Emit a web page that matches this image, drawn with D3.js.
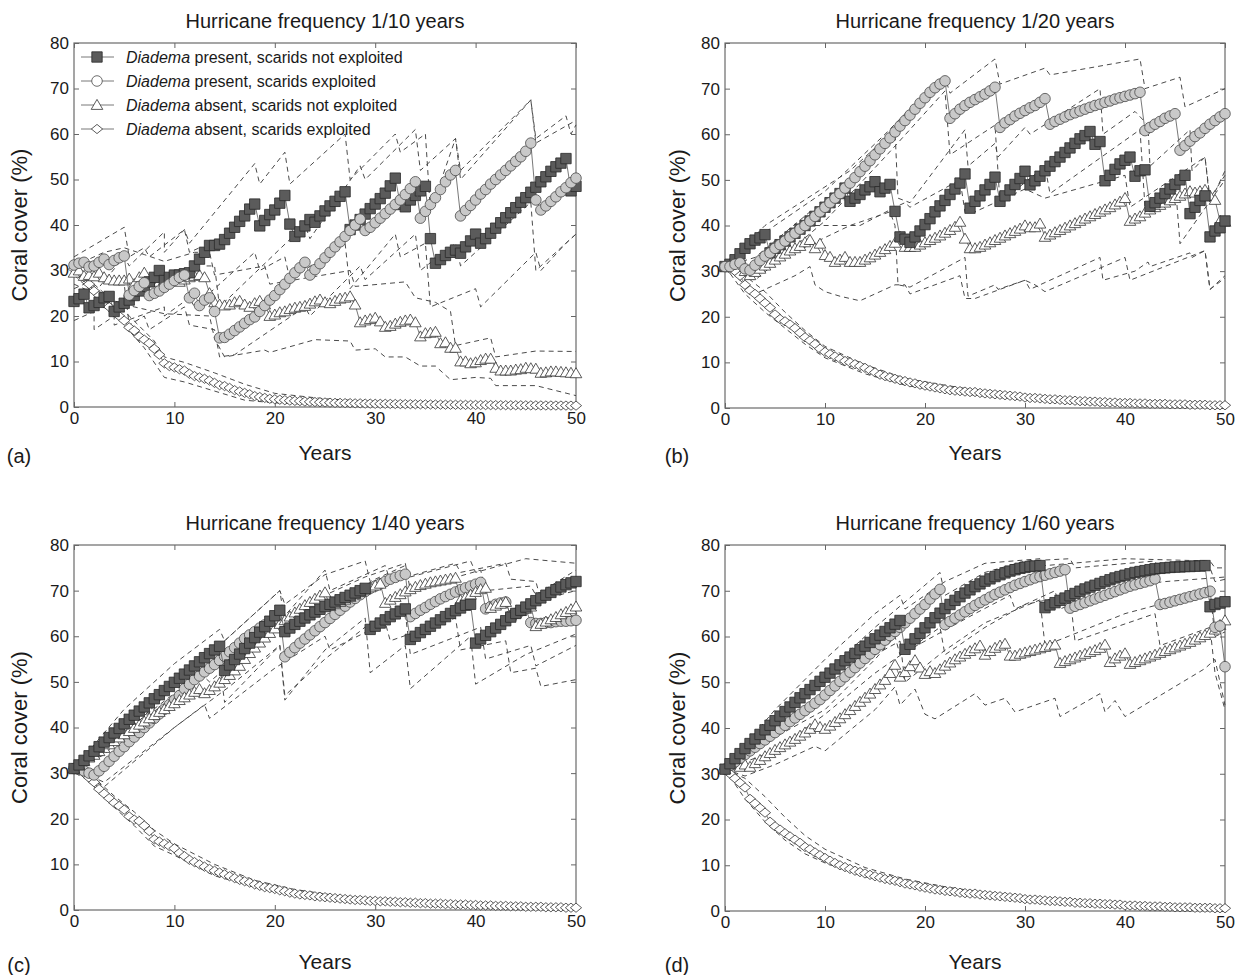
<!DOCTYPE html>
<html>
<head>
<meta charset="utf-8">
<script src="https://cdn.jsdelivr.net/npm/d3@7"></script>
<style>
  body { margin: 0; background: #fff; }
  text { font-family: "Liberation Sans", Arial, sans-serif; fill: #1a1a1a; }
</style>
</head>
<body>
<div id="chart"></div>
<script>
// half-year steps, 0..50
const YEARS = d3.range(0, 50.25, 0.5)
const X_TICKS = [0, 10, 20, 30, 40, 50]
const Y_TICKS = [0, 10, 20, 30, 40, 50, 60, 70, 80]
const TITLES = [
  'Hurricane frequency 1/10 years', 'Hurricane frequency 1/20 years',
  'Hurricane frequency 1/40 years', 'Hurricane frequency 1/60 years'
]
const TAGS = ['(a)', '(b)', '(c)', '(d)']
const LEGEND = [
  ['Diadema', ' present, scarids not exploited'],
  ['Diadema', ' present, scarids exploited'],
  ['Diadema', ' absent, scarids not exploited'],
  ['Diadema', ' absent, scarids exploited']
]

// ---- (a) 1/10 years ----
const A_SQ = [
  23.2, 23.8, 24.8, 21.8, 22.3, 23.0, 24.0, 24.3, 21.0, 22.0,
  22.8, 23.5, 24.5, 25.5, 26.5, 27.5, 28.5, 30.0, 27.8, 28.5,
  29.0, 29.0, 29.3, 29.5, 31.0, 32.5, 34.0, 35.5, 35.5, 35.8,
  36.8, 38.2, 39.5, 40.8, 42.0, 43.5, 44.6, 39.8, 41.0, 42.3,
  43.3, 44.8, 46.5, 40.2, 37.5, 38.5, 39.8, 41.2, 40.6, 42.0,
  43.1, 44.2, 45.2, 46.3, 47.3, 39.0, 40.0, 41.2, 42.4, 43.6,
  44.6, 45.8, 47.0, 48.6, 50.3, 44.5, 44.0, 45.5, 46.5, 47.5,
  48.5, 37.0, 31.6, 32.4, 33.3, 34.0, 34.5, 33.8, 35.2, 36.5,
  38.0, 36.0, 37.0, 38.2, 39.3, 40.5, 41.6, 42.7, 43.8, 45.0,
  46.0, 47.2, 48.3, 49.5, 50.6, 51.8, 52.8, 53.6, 54.6, 47.5,
  48.5
]
const A_CI = [
  31.2, 31.6, 31.8, 30.8, 31.0, 31.8, 32.5, 31.3, 32.2, 32.8,
  33.2, 24.6, 25.6, 26.5, 27.3, 24.5, 25.0, 25.5, 26.3, 27.0,
  27.8, 28.5, 29.0, 24.0, 25.0, 22.3, 23.5, 24.0, 21.0, 15.2,
  15.3, 16.0, 16.8, 17.6, 18.4, 19.2, 19.8, 21.0, 22.3, 23.5,
  24.5, 25.8, 27.0, 28.3, 29.5, 30.6, 31.8, 29.0, 30.2, 31.5,
  32.8, 34.0, 35.2, 36.3, 37.5, 38.8, 40.0, 41.3, 38.8, 39.5,
  40.5, 41.5, 42.5, 43.5, 44.5, 45.5, 46.7, 48.0, 49.5, 41.5,
  43.0, 44.5, 46.0, 47.8, 49.5, 51.0, 52.0, 42.0, 43.2, 44.3,
  45.5, 46.8, 47.8, 49.0, 50.0, 51.0, 52.0, 53.0, 54.0, 55.0,
  56.2, 58.0, 45.5, 43.3, 44.2, 45.2, 46.2, 47.3, 48.2, 49.3,
  50.3
]
const A_TR = [
  29.5, 30.0, 28.8, 29.0, 28.7, 29.5, 28.5, 28.0, 27.8, 27.8,
  27.8, 28.2, 27.0, 28.5, 29.5, 27.5, 28.0, 27.5, 27.8, 28.5,
  28.0, 27.5, 28.0, 28.5, 28.8, 29.0, 28.5, 25.0, 23.0, 22.5,
  22.3, 22.5, 23.0, 23.3, 22.5, 22.0, 22.8, 23.3, 22.5, 20.0,
  20.3, 20.8, 21.0, 21.5, 21.8, 22.0, 22.2, 22.7, 23.2, 23.6,
  23.0, 22.8, 23.3, 23.8, 24.0, 24.3, 22.5, 18.6, 19.0, 19.3,
  19.6, 18.8, 17.6, 17.8, 18.3, 18.7, 19.0, 19.2, 18.6, 15.5,
  16.2, 16.3, 16.5, 14.0, 14.2, 13.0, 13.0, 10.0, 10.0, 9.6,
  9.8, 10.3, 10.6, 10.6, 8.6, 8.0, 8.0, 8.0, 8.2, 8.3,
  8.6, 8.5, 8.4, 7.5, 7.6, 7.8, 7.8, 7.7, 7.6, 7.5,
  7.4
]
const A_DI = [
  30.3, 29.5, 28.5, 27.0, 25.5, 24.5, 22.8, 22.0, 21.0, 20.0,
  19.0, 17.5, 16.8, 15.5, 14.8, 14.0, 12.8, 11.5, 9.6, 9.0,
  8.7, 8.3, 8.0, 7.3, 6.8, 6.5, 6.2, 5.8, 5.3, 4.8,
  4.6, 4.2, 3.7, 3.4, 3.1, 2.8, 2.4, 2.2, 2.0, 1.8,
  1.7, 1.6, 1.5, 1.4, 1.35, 1.3, 1.2, 1.15, 1.1, 1.05,
  1.0, 0.95, 0.9, 0.9, 0.85, 0.85, 0.8, 0.8, 0.75, 0.75,
  0.7, 0.7, 0.7, 0.68, 0.66, 0.65, 0.63, 0.62, 0.6, 0.58,
  0.57, 0.55, 0.54, 0.52, 0.51, 0.5, 0.49, 0.48, 0.47, 0.46,
  0.45, 0.44, 0.43, 0.42, 0.41, 0.4, 0.39, 0.38, 0.38, 0.37,
  0.36, 0.35, 0.35, 0.34, 0.33, 0.33, 0.32, 0.32, 0.31, 0.3,
  0.3
]
// dashed bands: [year, cover] vertices
const A_SQ_HI = [[0,26],[2,28],[2,25],[5,33],[5.5,31],[9,38.5],[9,34],[11,39],[11.5,36],[18,53.5],[18.5,49],[21,56],[21.5,49],[27,60],[27.5,50],[32,60],[32.5,56],[35,60],[35.5,43],[38,59],[38.5,50],[45.5,67.5],[46,59],[49,64],[49.5,60],[50,62]]
const A_SQ_LO = [[0,19],[2,21],[2,17],[4,20],[4,18],[9,22],[9,20],[11.5,24],[12,22],[18,34],[18.5,30],[21,33],[21.5,28],[27,36],[27.5,26],[32,38],[32.5,33],[35,36],[35.5,22],[40,26],[40.5,22],[46,34],[46.5,30],[49,36],[50,38]]
const A_CI_HI = [[0,33],[5,39.5],[5.5,33],[7,35],[7.5,33],[11,39],[11.5,34],[12.5,35],[13,31],[14,31],[14.5,22],[23,40],[23.5,37],[28.5,53],[29,50],[34,61],[34.5,52],[38,59],[38.5,52],[45.5,67.5],[46,58],[50,63]]
const A_CI_LO = [[0,29],[5,27],[5.5,18],[7,20],[7.5,17],[11,22],[11.5,18],[14,17],[14.5,11],[16,11.5],[23,22],[23.5,20],[28.5,31],[29,28],[34,38],[34.5,30],[38,36],[38.5,31],[45.5,45],[46,30],[50,38]]
const A_TR_HI = [[0,31],[3,34],[5,35],[7,33.5],[9,32],[12,34],[13.5,34],[14,29],[19,31],[19.5,27],[27.5,30],[28,26.5],[33,27.5],[34,24],[36,23],[37.5,21],[38,13.5],[41.5,15.2],[42,11],[46,12.3],[50,12.2]]
const A_TR_LO = [[0,27],[3,24],[6,22],[9,20.5],[13.5,20],[14,15],[15,11],[19,12.5],[19.5,12],[24,14.8],[27.5,14.5],[28,12.5],[30,12.8],[31,11],[33,11],[34.5,9],[36,9],[37.5,6],[40,6.5],[41.5,6.3],[42,4.7],[46,4.7],[50,2.5]]
const A_DI_HI = [[0,31],[2,27],[4,23],[5.5,20],[8,14.5],[9,11],[11,9.8],[14,7.5],[17,5],[20,3],[25,1.8],[30,1.2],[40,0.8],[50,0.6]]
const A_DI_LO = [[0,29],[2,25],[4,21],[5,18],[7,13],[9,6.5],[11,5.5],[14,3.5],[17,1.5],[20,0.9],[25,0.5],[35,0.3],[50,0.1]]

// ---- (b) 1/20 years ----
const B_SQ = [
  31.0, 31.5, 32.5, 33.8, 35.0, 36.0, 36.8, 37.3, 38.0, 34.0,
  35.0, 35.8, 36.6, 37.5, 38.3, 39.2, 40.0, 41.0, 42.0, 43.0,
  44.0, 45.0, 46.0, 47.0, 48.2, 45.3, 46.0, 46.8, 47.8, 48.5,
  49.6, 47.4, 48.2, 49.0, 43.1, 37.5, 37.0, 36.3, 37.5, 38.8,
  40.2, 41.5, 43.0, 44.3, 45.5, 46.8, 48.0, 49.3, 51.3, 43.8,
  45.3, 46.5, 47.8, 49.0, 50.6, 45.3, 46.5, 47.8, 49.0, 50.3,
  51.9, 48.9, 49.8, 50.8, 52.0, 53.0, 54.0, 55.0, 56.0, 57.0,
  58.0, 59.0, 59.7, 60.6, 57.8, 58.4, 49.8, 51.0, 52.3, 53.5,
  54.3, 55.0, 50.8, 52.0, 52.2, 44.2, 45.0, 46.0, 47.0, 48.0,
  49.0, 50.0, 51.0, 42.6, 44.0, 45.5, 46.5, 37.5, 38.8, 39.5,
  41.0
]
const B_CI = [
  31.0, 31.0, 31.5, 31.8, 30.5, 30.2, 31.3, 32.3, 33.3, 34.0,
  35.0, 35.8, 36.6, 37.5, 38.3, 39.2, 40.0, 41.0, 42.0, 43.0,
  44.0, 45.0, 46.0, 47.0, 48.2, 49.3, 50.5, 51.8, 53.0, 54.2,
  55.5, 56.8, 58.0, 59.2, 60.5, 61.8, 63.0, 64.2, 65.5, 66.8,
  68.0, 69.2, 70.2, 71.0, 71.7, 63.5, 64.5, 65.5, 66.3, 67.0,
  67.6, 68.2, 68.8, 69.5, 70.3, 61.5, 62.5, 63.2, 64.0, 64.6,
  65.2, 65.8, 66.3, 67.0, 67.8, 62.2, 62.8, 63.3, 63.8, 64.3,
  64.7, 65.1, 65.5, 65.9, 66.3, 66.6, 67.0, 67.3, 67.7, 68.0,
  68.3, 68.6, 68.9, 69.2, 60.8, 61.5, 62.2, 62.8, 63.5, 64.0,
  64.5, 56.5, 57.5, 58.5, 59.5, 60.3, 61.3, 62.2, 63.0, 63.8,
  64.5
]
const B_TR = [
  31.0, 31.5, 32.0, 32.8, 30.0, 29.1, 29.8, 30.5, 31.2, 31.8,
  32.5, 33.2, 33.8, 34.5, 35.0, 35.5, 36.3, 36.8, 35.0, 36.0,
  33.5, 33.1, 32.0, 32.5, 33.1, 32.0, 32.0, 32.0, 32.5, 33.0,
  33.6, 34.2, 34.8, 35.5, 36.2, 37.5, 35.3, 35.3, 35.3, 35.8,
  36.3, 36.8, 37.3, 37.8, 38.4, 39.0, 39.7, 40.8, 37.1, 35.0,
  35.0, 35.3, 35.8, 36.3, 36.8, 37.3, 37.8, 38.3, 38.8, 39.3,
  40.0, 39.6, 39.6, 40.4, 37.5, 38.0, 38.5, 39.0, 39.5, 40.0,
  40.5, 41.0, 41.5, 42.0, 42.5, 43.0, 43.5, 44.0, 44.6, 45.2,
  46.0, 41.0, 41.5, 42.0, 42.8, 43.5, 44.0, 44.5, 45.0, 45.5,
  46.0, 46.5, 47.0, 47.5, 47.2, 47.5, 47.8, 46.5, 45.6, 41.0,
  40.8
]
const B_DI = [
  31.0, 30.5, 30.0, 29.0, 27.0, 25.8, 25.0, 24.0, 23.0, 22.0,
  20.5, 19.5, 19.0, 18.3, 17.5, 16.5, 15.5, 14.8, 14.0, 13.0,
  12.3, 11.8, 11.3, 10.8, 10.3, 10.0, 9.6, 9.2, 8.8, 8.3,
  7.8, 7.3, 7.0, 6.7, 6.4, 6.1, 5.9, 5.6, 5.4, 5.1,
  4.9, 4.7, 4.5, 4.3, 4.1, 3.9, 3.8, 3.7, 3.6, 3.5,
  3.5, 3.3, 3.2, 3.1, 3.0, 2.9, 2.8, 2.7, 2.6, 2.5,
  2.3, 2.2, 2.2, 2.1, 2.0, 1.9, 1.9, 1.8, 1.7, 1.7,
  1.6, 1.5, 1.5, 1.4, 1.4, 1.3, 1.3, 1.2, 1.2, 1.1,
  1.1, 1.1, 1.0, 1.0, 1.0, 0.9, 0.9, 0.9, 0.9, 0.8,
  0.8, 0.8, 0.8, 0.7, 0.7, 0.7, 0.7, 0.6, 0.6, 0.6,
  0.6
]
const B_SQ_HI = [[0,31],[4,40],[12.5,52],[17,61],[17.3,46],[18.5,45],[24,61],[24.3,53],[27,58],[27.3,55],[30,61.5],[30.5,60],[37.5,70],[37.8,60],[41,65],[42.3,62],[42.5,53],[46.5,61],[46.7,52],[48,55],[48.5,45],[50,52]]
const B_SQ_LO = [[0,31],[4,31],[12.5,40],[16.5,43],[17,40],[17.3,27],[18.5,26.5],[24,33],[24.3,24.5],[27,27],[27.3,26],[30,28],[30.5,26],[37.5,33],[37.8,28],[41,30],[42.3,32],[42.5,31],[46.5,34],[46.7,33],[48,34.5],[48.5,26],[50,28.5]]
const B_CI_HI = [[0,31],[3,37],[10,47.5],[16,60],[20,69],[22,72.5],[22.5,69],[27,76.5],[27.5,71],[32,74.5],[32.5,73],[41.5,76.5],[42,70],[45.5,72.5],[46,66],[50,70]]
const B_CI_LO = [[0,31],[3,28],[10,41],[16,55],[22,69.5],[22.5,55.5],[27,62],[27.5,45],[32,53],[32.5,47],[41.5,61],[42,44],[45,50],[45.5,36],[50,50]]
const B_TR_HI = [[0,31],[3,33],[8.5,43],[9,40],[11.5,40],[13.5,40],[17,44],[18,45],[18.5,44],[23.5,50],[24,43],[25,43],[30,48],[31,47],[32,46],[40,51],[40.5,44],[48,55],[48.5,46],[50,51]]
const B_TR_LO = [[0,31],[3,25],[7,29],[8.5,31],[9,27],[10,25.5],[11.5,24.5],[13.5,23.5],[17,27],[18,27],[18.5,25],[23.5,29],[24,24],[25,24],[30,28],[31,27],[32,25.5],[40,33],[40.5,28],[48,34.5],[48.5,26],[50,29]]
const B_DI_HI = [[0,31],[2,29],[4,25.5],[6,21],[8,17],[10,13.5],[14,9.5],[18,6.5],[22,5],[26,3.6],[30,2.6],[40,1.2],[50,0.8]]
const B_DI_LO = [[0,31],[2,25],[4,21],[6,17.5],[8,14],[10,11],[14,7.5],[18,5],[22,3.5],[26,2.6],[30,1.8],[40,0.8],[50,0.4]]

// ---- (c) 1/40 years ----
const C_SQ = [
  31.0, 31.8, 32.8, 33.8, 34.8, 35.8, 36.8, 37.8, 38.8, 39.8,
  40.8, 41.8, 42.7, 43.6, 44.5, 45.4, 46.3, 47.2, 48.1, 49.0,
  49.9, 50.8, 51.7, 52.6, 53.5, 54.4, 55.3, 56.2, 57.0, 57.8,
  52.5, 53.7, 54.9, 56.1, 57.3, 58.5, 59.7, 60.9, 62.1, 63.3,
  64.5, 65.7, 61.0, 61.8, 62.6, 63.3, 64.0, 64.7, 65.3, 65.9,
  66.5, 67.0, 67.5, 68.0, 68.5, 69.0, 69.5, 70.0, 70.5, 61.5,
  62.2, 62.9, 63.6, 64.3, 64.9, 65.5, 66.0, 59.3, 60.0, 60.8,
  61.5, 62.2, 62.9, 63.6, 64.3, 65.0, 65.6, 66.2, 66.8, 67.0,
  58.5, 59.4, 60.2, 61.0, 61.8, 62.6, 63.4, 64.2, 65.0, 65.7,
  66.4, 67.1, 67.8, 68.4, 69.0, 69.6, 70.2, 70.8, 71.3, 71.7,
  72.0
]
const C_CI = [
  31.0, 30.8, 30.5, 30.0, 29.6, 30.5, 31.5, 32.6, 33.7, 34.8,
  35.8, 36.9, 37.9, 38.9, 40.0, 41.0, 42.0, 43.0, 44.0, 45.0,
  46.0, 47.0, 48.5, 49.5, 50.5, 51.3, 52.2, 53.0, 53.8, 54.7,
  55.6, 56.6, 57.5, 58.5, 59.5, 60.3, 61.0, 61.8, 62.5, 63.2,
  63.8, 64.5, 55.5, 56.5, 57.5, 58.5, 59.4, 60.3, 61.2, 62.1,
  63.0, 63.9, 64.8, 65.7, 66.6, 67.5, 68.3, 69.1, 69.8, 70.5,
  71.0, 71.5, 72.0, 72.5, 72.9, 73.3, 73.6, 64.3, 65.0, 65.7,
  66.3, 67.0, 67.6, 68.2, 68.7, 69.2, 69.7, 70.2, 70.6, 71.0,
  71.4, 71.8, 66.0, 66.5, 67.0, 67.3, 67.5, 64.5, 65.0, 65.5,
  66.0, 63.0, 62.8, 62.8, 63.0, 63.0, 63.2, 63.3, 63.3, 63.4,
  63.5
]
const C_TR = [
  31.0, 31.8, 32.6, 33.4, 34.0, 34.8, 35.5, 36.3, 37.0, 37.8,
  38.5, 39.2, 39.9, 40.6, 41.3, 42.0, 42.7, 43.4, 44.0, 44.7,
  45.3, 46.0, 46.6, 47.2, 47.8, 48.4, 47.5, 48.2, 49.0, 49.8,
  50.6, 51.5, 52.5, 53.5, 55.0, 56.3, 57.5, 58.6, 59.7, 60.7,
  61.7, 62.7, 63.5, 64.3, 65.2, 66.0, 66.8, 67.5, 68.2, 68.9,
  69.6, 66.6, 67.0, 67.5, 68.0, 68.6, 69.2, 69.7, 70.2, 70.7,
  71.1, 71.5, 67.3, 68.0, 68.6, 69.2, 69.8, 70.3, 70.8, 71.2,
  71.5, 71.8, 72.0, 72.2, 72.4, 72.6, 72.8, 67.9, 68.5, 69.1,
  69.7, 70.3, 70.6, 66.2, 66.7, 67.1, 67.5, 64.5, 65.0, 65.5,
  66.0, 66.5, 62.2, 62.7, 63.2, 63.7, 64.2, 64.8, 65.3, 65.9,
  66.5
]
const C_DI = [
  31.0, 30.5, 30.0, 29.0, 28.0, 26.5, 25.5, 24.5, 23.5, 22.8,
  22.0, 20.5, 19.8, 19.5, 18.5, 17.3, 15.5, 15.0, 14.5, 14.0,
  13.5, 12.5, 11.8, 11.0, 10.5, 10.0, 9.5, 9.0, 8.6, 8.2,
  7.8, 7.4, 7.0, 6.6, 6.3, 6.0, 5.6, 5.3, 5.0, 4.8,
  4.6, 4.3, 4.1, 3.8, 3.6, 3.4, 3.3, 3.2, 3.0, 2.9,
  2.8, 2.7, 2.6, 2.5, 2.4, 2.3, 2.2, 2.2, 2.1, 2.0,
  2.0, 1.9, 1.9, 1.8, 1.8, 1.7, 1.7, 1.6, 1.6, 1.5,
  1.5, 1.4, 1.4, 1.4, 1.3, 1.3, 1.2, 1.2, 1.2, 1.1,
  1.1, 1.0, 1.0, 1.0, 0.9, 0.9, 0.9, 0.8, 0.8, 0.8,
  0.7, 0.7, 0.7, 0.7, 0.6, 0.6, 0.6, 0.6, 0.5, 0.5,
  0.5
]
const C_SQ_HI = [[0,31],[5,44],[10,54],[14.5,61.5],[15,59],[20.5,70],[21,67],[25,73.5],[29,76.5],[29.5,72],[33,75.5],[33.5,73],[39.5,76.5],[40,74],[45,77],[50,76]]
const C_SQ_LO = [[0,31],[5,39],[10,47.5],[14.5,54],[15,45.5],[20.5,58],[21,46],[25,57],[29,64],[29.5,52],[33,58],[33.5,48.5],[39.5,60],[40,49.5],[45,56],[50,60.5]]
const C_CI_HI = [[0,31],[3,34],[10,49],[15.5,60],[20.5,70],[21,63],[25,69],[29,73],[33,76],[33.5,70],[40.5,74.5],[41,70],[45.5,71],[46,69],[50,74.5]]
const C_CI_LO = [[0,31],[3,27],[10,40],[15.5,49],[20.5,58],[21,47],[25,55],[29,62],[33,65],[33.5,56],[40.5,62],[41,55],[45.5,58],[46,53.5],[50,58]]
const C_TR_HI = [[0,31],[3,35],[10,46],[13,51],[13.5,50],[20,62],[25,74.5],[25.5,70],[31,75.5],[31.5,72],[38,76],[38.5,74],[43,76],[43.5,72.5],[46,72],[46.5,68],[50,70]]
const C_TR_LO = [[0,31],[3,28],[10,40],[13,45],[13.5,42],[20,53],[25,60],[25.5,57],[31,63],[31.5,59],[38,64],[38.5,57],[43,59],[43.5,52],[46,53],[46.5,49],[50,50.5]]
const C_DI_HI = [[0,31],[2,29],[4,25],[6,21.5],[8,17.5],[10,14.5],[14,10],[18,6.5],[22,4.5],[26,3.2],[30,2.4],[40,1.4],[50,0.8]]
const C_DI_LO = [[0,31],[2,27],[4,22.5],[6,18.5],[8,14],[10,12],[14,7.5],[18,5],[22,3],[26,2.3],[30,1.6],[40,0.8],[50,0.3]]

// ---- (d) 1/60 years ----
const D_SQ = [
  31.0, 32.2, 33.3, 34.4, 35.5, 36.6, 37.6, 38.6, 39.6, 40.6,
  41.6, 42.6, 43.6, 44.6, 45.6, 46.6, 47.5, 48.4, 49.3, 50.2,
  51.1, 52.0, 52.9, 53.8, 54.7, 55.5, 56.3, 57.1, 57.9, 58.7,
  59.5, 60.3, 61.1, 61.9, 62.7, 63.5, 57.2, 58.3, 59.5, 60.7,
  61.9, 63.0, 64.1, 65.1, 66.1, 67.0, 67.9, 68.7, 69.5, 70.2,
  70.9, 71.5, 72.1, 72.6, 73.1, 73.5, 73.9, 74.3, 74.6, 74.9,
  75.1, 75.3, 75.4, 75.5, 66.3, 66.9, 67.4, 67.9, 68.4, 68.9,
  69.4, 69.9, 70.4, 70.8, 71.2, 71.6, 72.0, 72.4, 72.8, 73.1,
  73.4, 73.7, 74.0, 74.2, 74.4, 74.6, 74.8, 74.9, 75.0, 75.1,
  75.2, 75.2, 75.3, 75.3, 75.4, 75.4, 75.5, 66.5, 67.0, 67.3,
  67.6
]
const D_CI = [
  31.0, 31.8, 32.6, 33.4, 34.2, 35.0, 35.8, 36.6, 37.4, 38.2,
  39.0, 39.8, 40.6, 41.4, 42.2, 43.0, 43.8, 44.6, 45.4, 46.2,
  47.2, 48.2, 49.2, 50.2, 51.2, 52.2, 53.2, 54.2, 55.2, 56.2,
  57.2, 58.2, 59.2, 60.2, 61.1, 62.0, 63.0, 64.0, 65.0, 66.0,
  67.0, 68.2, 69.3, 70.3, 62.6, 63.3, 64.0, 64.7, 65.4, 66.1,
  66.8, 67.4, 68.0, 68.6, 69.2, 69.7, 70.2, 70.7, 71.2, 71.6,
  72.0, 72.4, 72.8, 73.1, 73.4, 73.7, 74.0, 74.3, 74.6, 66.2,
  66.6, 67.0, 67.4, 67.8, 68.2, 68.6, 69.0, 69.4, 69.8, 70.2,
  70.6, 71.0, 71.3, 71.6, 71.9, 72.2, 72.6, 67.0, 67.2, 67.5,
  67.8, 68.1, 68.4, 68.7, 69.0, 69.3, 69.6, 69.9, 62.0, 62.3,
  53.4
]
const D_TR = [
  31.0, 31.8, 32.6, 31.5, 32.0, 31.5, 32.3, 33.0, 33.8, 34.5,
  35.2, 35.8, 36.4, 37.0, 37.6, 38.3, 39.0, 39.8, 40.8, 40.2,
  39.8, 40.5, 41.3, 42.1, 43.0, 43.9, 44.8, 45.7, 46.6, 47.5,
  48.5, 49.5, 50.5, 52.0, 53.8, 51.2, 52.2, 53.5, 54.8, 53.2,
  51.8, 52.4, 52.0, 52.8, 53.6, 54.3, 55.0, 55.6, 56.2, 56.8,
  57.4, 58.0, 56.0, 56.8, 57.5, 58.0, 58.4, 55.8, 55.8, 56.2,
  56.5, 56.8, 57.1, 57.4, 57.7, 58.0, 58.2, 54.2, 54.6, 55.0,
  55.4, 55.8, 56.2, 56.6, 57.0, 57.5, 58.2, 54.4, 55.2, 55.8,
  56.3, 54.0, 54.4, 54.8, 55.2, 55.6, 56.0, 56.4, 56.8, 57.2,
  57.6, 58.0, 58.4, 58.8, 59.3, 59.8, 60.3, 60.8, 61.5, 62.5,
  63.5
]
const D_DI = [
  31.0, 30.0, 29.0, 28.0, 27.0, 24.5, 23.5, 22.5, 21.5, 19.5,
  18.5, 17.8, 17.0, 16.3, 15.6, 14.9, 14.0, 13.5, 12.8, 12.2,
  11.6, 11.0, 10.5, 10.0, 9.6, 9.2, 8.8, 8.5, 8.2, 7.9,
  7.6, 7.3, 7.0, 6.8, 6.6, 6.3, 6.0, 5.8, 5.6, 5.3,
  5.1, 4.9, 4.7, 4.6, 4.4, 4.3, 4.2, 4.0, 3.9, 3.8,
  3.8, 3.6, 3.5, 3.4, 3.3, 3.2, 3.1, 3.0, 2.9, 2.8,
  2.6, 2.5, 2.5, 2.4, 2.3, 2.2, 2.2, 2.1, 2.0, 2.0,
  1.8, 1.8, 1.7, 1.7, 1.6, 1.6, 1.5, 1.5, 1.4, 1.4,
  1.2, 1.2, 1.2, 1.1, 1.1, 1.0, 1.0, 1.0, 0.9, 0.9,
  0.8, 0.8, 0.8, 0.8, 0.7, 0.7, 0.7, 0.7, 0.6, 0.6,
  0.6
]
const D_SQ_HI = [[0,31],[5,44],[10,55],[15,65],[17.5,69],[18,66],[22,72],[26,76],[31.5,77],[32,75.5],[40,77],[48.5,76.5],[49,75],[50,75]]
const D_SQ_LO = [[0,31],[5,38],[10,48],[15,56],[17.5,59],[18,50],[22,57],[26,63],[31.5,68],[32,58],[40,65],[48.5,70],[49,60],[50,61]]
const D_CI_HI = [[0,31],[5,41],[10,52],[15,62],[21.5,74],[22,69],[26,74],[30,76.5],[34.5,77],[35,75],[43,76.5],[43.5,74],[48.5,75],[49,72],[50,72.5]]
const D_CI_LO = [[0,31],[5,35],[10,43],[15,52],[21.5,62],[22,56],[26,62],[30,67],[34.5,69],[35,59],[43,65],[43.5,58],[48.5,62],[49,52],[50,44]]
const D_TR_HI = [[0,31],[5,38],[10,44],[15,55],[17,60],[17.5,56],[20,59],[25,65],[28.5,69],[29,66],[33,70],[33.5,66],[38,70],[40,71],[44,72],[50,73]]
const D_TR_LO = [[0,31],[2,29.5],[5,32],[9,36],[10,35],[15,44],[17,49],[17.5,45],[19,48.5],[20,43],[21,42],[25,47.5],[26,45],[28,46.5],[29,43.5],[33,46.5],[33.5,42.5],[37.5,47.5],[38,43.5],[39,46],[40,42.5],[48,53],[49,55],[50,45]]
const D_DI_HI = [[0,31],[2,29],[4,25],[6,20.5],[8,16.5],[10,13.5],[14,9.5],[18,7],[22,5.3],[26,4],[30,3],[40,1.6],[50,0.9]]
const D_DI_LO = [[0,31],[2,24.5],[4,19.5],[6,15.5],[8,12.5],[10,10.5],[14,7.5],[18,5.5],[22,4],[26,3],[30,2.2],[40,1],[50,0.4]]

const W = 1244, H = 975
const FONT = '"Liberation Sans", Arial, sans-serif'

// series index: 0 squares, 1 circles, 2 triangles, 3 diamonds
// order = which series is painted first (bottom) to last (top)
const PANELS = [
  { left: 74, right: 576, top: 43, bottom: 407, sideX: 19, xlabY: 460, order: [3, 2, 0, 1],
    series: [A_SQ, A_CI, A_TR, A_DI],
    bands: [A_SQ_HI, A_SQ_LO, A_CI_HI, A_CI_LO, A_TR_HI, A_TR_LO, A_DI_HI, A_DI_LO], legend: true },
  { left: 725, right: 1225, top: 43, bottom: 408, sideX: 677, xlabY: 460, order: [3, 2, 0, 1],
    series: [B_SQ, B_CI, B_TR, B_DI],
    bands: [B_SQ_HI, B_SQ_LO, B_CI_HI, B_CI_LO, B_TR_HI, B_TR_LO, B_DI_HI, B_DI_LO] },
  { left: 74, right: 576, top: 545, bottom: 910, sideX: 19, xlabY: 969, order: [3, 1, 2, 0],
    series: [C_SQ, C_CI, C_TR, C_DI],
    bands: [C_SQ_HI, C_SQ_LO, C_CI_HI, C_CI_LO, C_TR_HI, C_TR_LO, C_DI_HI, C_DI_LO] },
  { left: 725, right: 1225, top: 545, bottom: 911, sideX: 677, xlabY: 969, order: [3, 2, 1, 0],
    series: [D_SQ, D_CI, D_TR, D_DI],
    bands: [D_SQ_HI, D_SQ_LO, D_CI_HI, D_CI_LO, D_TR_HI, D_TR_LO, D_DI_HI, D_DI_LO] }
]

const MARKERS = [
  { d: 'M-5.2,-5.2h10.4v10.4h-10.4Z', fill: '#5b5b5b', stroke: '#2a2a2a' },
  { d: d3.symbol(d3.symbolCircle, 88)(), fill: '#c9c9c9', stroke: '#4a4a4a' },
  { d: 'M0,-5.6L5.8,4.4L-5.8,4.4Z', fill: '#fff', stroke: '#333' },
  { d: 'M0,-4.6L5.6,0L0,4.6L-5.6,0Z', fill: '#fff', stroke: '#333' }
]

const svg = d3.select('#chart').append('svg')
  .attr('width', W).attr('height', H)
  .style('display', 'block')

PANELS.forEach((p, pi) => {
  const x = d3.scaleLinear().domain([0, 50]).range([p.left, p.right])
  const y = d3.scaleLinear().domain([0, 80]).range([p.bottom, p.top])
  const g = svg.append('g')

  // Title
  g.append('text')
    .attr('x', (p.left + p.right) / 2).attr('y', p.top - 15)
    .attr('text-anchor', 'middle')
    .style('font-size', '20px')
    .text(TITLES[pi])

  // Axes, ticks pointing inward on all four sides
  const styleAxis = (sel) => {
    sel.select('.domain').remove()
    sel.selectAll('.tick line').attr('stroke', '#666').attr('stroke-width', 1)
    sel.selectAll('.tick text').style('font-size', '17px').style('font-family', FONT).attr('fill', '#1a1a1a')
  }
  g.append('g').attr('transform', `translate(0,${p.bottom})`)
    .call(d3.axisBottom(x).tickValues(X_TICKS).tickSize(-5).tickPadding(5))
    .call(styleAxis)
  g.append('g').attr('transform', `translate(${p.left},0)`)
    .call(d3.axisLeft(y).tickValues(Y_TICKS).tickSize(-5).tickPadding(5))
    .call(styleAxis)
  g.append('g').attr('transform', `translate(0,${p.top})`)
    .call(d3.axisTop(x).tickValues(X_TICKS).tickSize(-5).tickFormat(''))
    .call(styleAxis)
  g.append('g').attr('transform', `translate(${p.right},0)`)
    .call(d3.axisRight(y).tickValues(Y_TICKS).tickSize(-5).tickFormat(''))
    .call(styleAxis)

  g.append('rect')
    .attr('x', p.left).attr('y', p.top)
    .attr('width', p.right - p.left).attr('height', p.bottom - p.top)
    .attr('fill', 'none').attr('stroke', '#6a6a6a').attr('stroke-width', 1.2)

  // Axis labels
  g.append('text')
    .attr('transform', `translate(${p.sideX},${(p.top + p.bottom) / 2}) rotate(-90)`)
    .attr('text-anchor', 'middle').attr('dy', '0.35em')
    .style('font-size', '22px')
    .text('Coral cover (%)')
  g.append('text')
    .attr('x', (p.left + p.right) / 2).attr('y', p.xlabY)
    .attr('text-anchor', 'middle')
    .style('font-size', '21px')
    .text('Years')
  g.append('text')
    .attr('x', p.sideX).attr('y', p.xlabY + 3)
    .attr('text-anchor', 'middle')
    .style('font-size', '20px')
    .text(TAGS[pi])

  // Dashed bands
  const bandLine = d3.line().x(d => x(d[0])).y(d => y(d[1]))
  g.append('g').selectAll('path')
    .data(p.bands)
    .join('path')
    .attr('d', bandLine)
    .attr('fill', 'none')
    .attr('stroke', '#4a4a4a')
    .attr('stroke-width', 1)
    .attr('stroke-dasharray', '5,4')

  // Series: thin connecting line + markers
  const seriesLine = d3.line().x((d, i) => x(YEARS[i])).y(d => y(d))
  p.order.forEach(si => {
    const vals = p.series[si]
    const m = MARKERS[si]
    const sg = g.append('g')
    sg.append('path')
      .attr('d', seriesLine(vals))
      .attr('fill', 'none').attr('stroke', '#555').attr('stroke-width', 0.8)
    sg.selectAll('path.mk')
      .data(vals)
      .join('path')
      .attr('class', 'mk')
      .attr('d', m.d)
      .attr('transform', (d, i) => `translate(${x(YEARS[i])},${y(d)})`)
      .attr('fill', m.fill).attr('stroke', m.stroke).attr('stroke-width', 0.8)
  })

  // Legend (panel a only)
  if (p.legend) {
    const lg = g.append('g')
    LEGEND.forEach((entry, i) => {
      const ly = p.top + 14 + i * 24
      const m = MARKERS[i]
      lg.append('line')
        .attr('x1', p.left + 7).attr('x2', p.left + 40)
        .attr('y1', ly).attr('y2', ly)
        .attr('stroke', '#555').attr('stroke-width', 0.8)
      lg.append('path')
        .attr('d', m.d)
        .attr('transform', `translate(${p.left + 23},${ly})`)
        .attr('fill', i === 1 ? '#fff' : m.fill)
        .attr('stroke', m.stroke).attr('stroke-width', 0.8)
      const t = lg.append('text')
        .attr('x', p.left + 52).attr('y', ly).attr('dy', '0.35em')
        .style('font-size', '16px')
      t.append('tspan').style('font-style', 'italic').text(entry[0])
      t.append('tspan').text(entry[1])
    })
  }
})

// sanity check on series lengths
const ALL = { A_SQ, A_CI, A_TR, A_DI, B_SQ, B_CI, B_TR, B_DI, C_SQ, C_CI, C_TR, C_DI, D_SQ, D_CI, D_TR, D_DI }
const bad = Object.entries(ALL).filter(([k, v]) => v.length !== YEARS.length).map(([k, v]) => k + ':' + v.length)
if (bad.length) throw new Error('length mismatch ' + bad.join(', '))
</script>
</body>
</html>
